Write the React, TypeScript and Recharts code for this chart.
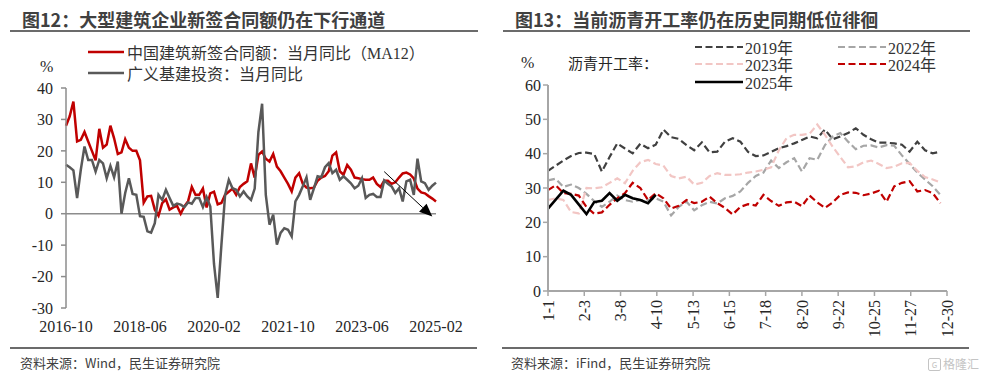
import React from "react";
import { LineChart, Line, XAxis, YAxis, ReferenceLine } from "recharts";

// 图12: 中国建筑新签合同额当月同比(MA12) / 广义基建投资当月同比, monthly from 2016-10
const contractYoY = [
  28, 31, 35.7, 23, 23.5, 26, 23, 20, 17, 27,
  21, 22, 28, 24, 19, 19.5, 23.7, 21, 20, 20,
  17, 3.5, 5.5, 5.7, 1.3, -0.6, 3.4, 4.6, 1.3, 2,
  2.5, 0, 2.3, 4, 8.5, 6, 6, 8, 2, 6.5,
  7, 3, 3.4, 6, 7, 8, 6, 8.5, 9.5, 10.3,
  16, 11.5, 18.7, 19.8, 17.5, 16.6, 19, 15, 13.5, 11.5,
  9.5, 7.1, 11.5, 12.9, 9.5, 8.3, 8.1, 8.3, 10.5, 11.5,
  12, 13.5, 18.5, 19.5, 13.5, 12.4, 15.5, 14, 11.5, 11.3,
  11, 10.8, 10.8, 11.5, 9.5, 8.5, 10.5, 10.5, 9.5, 10,
  11.5, 12.8, 13.1, 12.5, 11.2, 8, 6.8, 6.5, 5.6, 4.8,
  3.9,
];
const infraYoY = [
  15.6, 14.8, 13.8, 5, 14, 21.4, 17.1, 17.1, 13.4, 17.1,
  16, 11.3, 15.2, 11.6, 16.6, 0, 6.6, 11.3, 6.3, 6,
  -0.8, -1, -5.6, -6, -3, 6, 4.4, 7.6, 5, 2.5,
  3.2, 2.9, 2.1, 3.6, 3.2, 5, 5, 2.1, 5.3, 2.3,
  -16, -26.8, -10, 6, 10.8, 8.1, 7.6, 5.5, 7.1, 5.5,
  4.4, 8, 26, 35, 6, -3.5, -0.3, -9.8, -6.1, -4.6,
  -5.1, -7.2, 3.9, 6, 8.7, 11.6, 4.4, 8.1, 11.9, 11.6,
  14.8, 16.1, 12.9, 14, 10.8, 11.9, 10.8, 9.7, 8.1, 8.9,
  11.3, 5, 6, 6.3, 5.3, 5.3, 10.6, 9.5, 8.7, 6.6,
  8.1, 3.9, 10.3, 10.8, 6, 17.5, 10.3, 9.7, 7.6, 8.9,
  9.9,
];
const months = contractYoY.map((_, i) => {
  const t = 9 + i;
  return `${2016 + Math.floor(t / 12)}-${String((t % 12) + 1).padStart(2, "0")}`;
});
const leftTicks = [-30, -20, -10, 0, 10, 20, 30, 40];

// 图13: 沥青开工率, weekly
const y2019 = [
  35, 36.5, 38, 39.3, 40.2, 40.3, 39.9, 34.8, 39, 43,
  41.5, 40.1, 42.9, 41.6, 42.6, 47, 44.8, 44.3, 42.5, 41,
  43.3, 40.4, 40.6, 43.5, 44.5, 43.5, 40.5, 39.3, 39.5, 40.5,
  41.6, 42.2, 43, 44, 45, 44.5, 47, 44.2, 45, 46,
  47.4, 45.5, 44.2, 43.2, 43.2, 43, 42.6, 40.6, 43.5, 41,
  40.1, 40.6,
];
const y2022 = [
  32.2, 32.7, 30.3, 31, 30, 28.3, 26.2, 24.5, 26, 27.8,
  26.5, 26, 26.5, 26.5, 27, 26, 22, 24.5, 26, 23.5,
  25, 26, 25.5, 27, 27.7, 29, 31.5, 33.5, 34.5, 38,
  35.8, 37.5, 38.7, 34.8, 38.7, 38.2, 42.5, 45, 46, 43.5,
  41.3, 42.3, 42.4, 41.8, 42.5, 42.3, 39.5, 37, 34.5, 32.5,
  30.5, 28,
];
const y2023 = [
  26.5, 27, 26.5, 23, 22.6, 30, 29.9, 30.2, 31.5, 32.8,
  31.4, 35, 37.5, 38.2, 37, 36.5, 33.5, 32.8, 33.3, 31,
  31.5, 33.5, 34.3, 33.8, 33.8, 34, 34.5, 34.8, 35.3, 36,
  41, 44.5, 45.5, 45.5, 45.8, 48.5, 45.5, 42, 39, 36,
  36.3, 37.5, 38, 37, 35.8, 36.2, 37.2, 37.3, 35, 33.2,
  32.5, 31.6,
];
const y2024 = [
  29.4, 30.8, 28.5, 28.3, 27.8, 24.5, 22.5, 22.9, 25.1, 27,
  28.5, 31.5, 30, 26.5, 28.5, 27, 24, 24.8, 26.5, 25.6,
  26, 27.5, 25.6, 24.2, 22.3, 24.5, 25.3, 24.9, 28, 26.2,
  24.8, 25.8, 26, 24.7, 27.8, 25.8, 24.2, 25.8, 28, 28.7,
  28.6, 27.9, 28.4, 29.2, 26, 30.5, 31.5, 32, 29, 29.4,
  28.5, 25.6,
];
const y2025 = [24, null, 29.2, 28, null, 22.4, 25.9, 26.3, 28.5, 26.3, 28, 27, 26.5, 25.6, 28];
const weekDays = y2019.map((_, i) => i * 7);
const dayTicks = [0, 33, 66, 99, 132, 165, 198, 231, 264, 297, 330, 363];
const dayTickLabels = ["1-1", "2-3", "3-8", "4-10", "5-13", "6-15", "7-18", "8-20", "9-22", "10-25", "11-27", "12-30"];
const rightTicks = [0, 10, 20, 30, 40, 50, 60];

const leftData = months.map((m, i) => ({ month: m, contract: contractYoY[i], infra: infraYoY[i] }));
const rightData = weekDays.map((d, i) => ({
  day: d,
  y2019: y2019[i],
  y2022: y2022[i],
  y2023: y2023[i],
  y2024: y2024[i],
  y2025: i < y2025.length ? y2025[i] : null,
}));

const yearSeries = [
  { key: "y2019", name: "2019年", color: "#404040", dash: "7 3.5", width: 2.2 },
  { key: "y2022", name: "2022年", color: "#a6a6a6", dash: "7 3.5", width: 2.2 },
  { key: "y2023", name: "2023年", color: "#f2c6c4", dash: "7 3.5", width: 2.2 },
  { key: "y2024", name: "2024年", color: "#c00000", dash: "7 3.5", width: 2.2 },
  { key: "y2025", name: "2025年", color: "#000000", dash: undefined, width: 2.6 },
];

const SERIF = "Liberation Serif, Noto Sans CJK SC, serif";
const CJK = "Noto Sans CJK SC, sans-serif";
const tickStyle = { fontSize: 16, fontFamily: SERIF, fill: "#262626" };

const Arrow = (p: any) => {
  const { x1, y1, x2, y2 } = p;
  const a = Math.atan2(y2 - y1, x2 - x1);
  const L = 13;
  const W = 5.5;
  const bx = x2 - L * Math.cos(a);
  const by = y2 - L * Math.sin(a);
  const px = -Math.sin(a) * W;
  const py = Math.cos(a) * W;
  return (
    <g>
      <line x1={x1} y1={y1} x2={bx} y2={by} stroke="#000" strokeWidth={1} />
      <polygon points={`${x2},${y2} ${bx + px},${by + py} ${bx - px},${by - py}`} fill="#000" />
    </g>
  );
};

const RotTick = ({ x, y, payload }: any) => (
  <g transform={`translate(${x},${y})`}>
    <text transform="rotate(-90)" textAnchor="end" dy="0.35em" fontSize={16} fontFamily={SERIF} fill="#262626">
      {dayTickLabels[dayTicks.indexOf(payload.value)]}
    </text>
  </g>
);

const abs = (s: React.CSSProperties): React.CSSProperties => ({ position: "absolute", ...s });

function LegendSwatch({ color, dash, width }: { color: string; dash?: string; width: number }) {
  return (
    <svg width={48} height={8} style={{ display: "block" }}>
      <line x1={0} y1={4} x2={48} y2={4} stroke={color} strokeWidth={width} strokeDasharray={dash} />
    </svg>
  );
}

export default function App() {
  const legendPos = [
    { left: 695, top: 47 },
    { left: 838, top: 47 },
    { left: 695, top: 64 },
    { left: 838, top: 64 },
    { left: 695, top: 82 },
  ];
  return (
    <div style={abs({ left: 0, top: 0, width: 983, height: 382, background: "#fff", overflow: "hidden" })}>
      {/* titles */}
      <div style={abs({ left: 22, top: 9, fontFamily: CJK, fontWeight: 700, fontSize: 18, lineHeight: "20px", color: "#404040", whiteSpace: "nowrap" })}>
        图12：大型建筑企业新签合同额仍在下行通道
      </div>
      <div style={abs({ left: 515, top: 9, fontFamily: CJK, fontWeight: 700, fontSize: 18, lineHeight: "20px", color: "#404040", whiteSpace: "nowrap" })}>
        图13：当前沥青开工率仍在历史同期低位徘徊
      </div>
      <div style={abs({ left: 10, top: 30, width: 468, borderTop: "2px solid #6b6b6b" })} />
      <div style={abs({ left: 503, top: 30, width: 467, borderTop: "2px solid #6b6b6b" })} />
      <div style={abs({ left: 10, top: 347, width: 467, borderTop: "2px solid #6b6b6b" })} />
      <div style={abs({ left: 502, top: 347, width: 467, borderTop: "2px solid #6b6b6b" })} />

      {/* left chart */}
      <div style={abs({ left: 0, top: 0 })}>
        <LineChart width={480} height={382} data={leftData} margin={{ top: 88, right: 44, bottom: 44, left: 0 }}>
          <XAxis dataKey="month" interval={19} axisLine={false} tickLine={false} tickSize={0} tickMargin={13} height={30} tick={tickStyle} />
          <YAxis
            domain={[-30, 40]}
            ticks={leftTicks}
            interval={0}
            width={66}
            tickSize={5}
            tickMargin={8}
            axisLine={{ stroke: "#8c8c8c", strokeWidth: 1.5 }}
            tickLine={{ stroke: "#8c8c8c", strokeWidth: 1.5 }}
            tick={tickStyle}
          />
          <ReferenceLine y={0} stroke="#8c8c8c" strokeWidth={1.5} />
          <Line type="linear" dataKey="contract" stroke="#c00000" strokeWidth={2.5} dot={false} activeDot={false} isAnimationActive={false} />
          <Line type="linear" dataKey="infra" stroke="#595959" strokeWidth={2.5} dot={false} activeDot={false} isAnimationActive={false} />
          <ReferenceLine
            segment={[{ x: months[86], y: 13.4 }, { x: months[99], y: -0.9 }]}
            ifOverflow="visible"
            shape={Arrow}
          />
        </LineChart>
      </div>
      <div style={abs({ left: 40, top: 57, fontFamily: SERIF, fontSize: 16, lineHeight: "20px", color: "#262626" })}>%</div>
      {[
        { label: "中国建筑新签合同额：当月同比（MA12）", color: "#c00000", top: 52 },
        { label: "广义基建投资：当月同比", color: "#595959", top: 73 },
      ].map((s) => (
        <div key={s.label} style={abs({ left: 88, top: s.top - 10, height: 20, display: "flex", alignItems: "center", whiteSpace: "nowrap" })}>
          <svg width={36} height={8} style={{ display: "block" }}>
            <line x1={0} y1={4} x2={36} y2={4} stroke={s.color} strokeWidth={2.5} />
          </svg>
          <span style={{ marginLeft: 3, fontFamily: SERIF, fontSize: 16, color: "#333" }}>{s.label}</span>
        </div>
      ))}

      {/* right chart */}
      <div style={abs({ left: 490, top: 0 })}>
        <LineChart width={493} height={382} data={rightData} margin={{ top: 85, right: 36, bottom: 31, left: 0 }}>
          <XAxis
            type="number"
            dataKey="day"
            domain={[0, 363]}
            ticks={dayTicks}
            interval={0}
            height={60}
            tickSize={5}
            tickMargin={4}
            axisLine={{ stroke: "#a6a6a6", strokeWidth: 2 }}
            tickLine={{ stroke: "#a6a6a6", strokeWidth: 1.5 }}
            tick={<RotTick />}
          />
          <YAxis
            domain={[0, 60]}
            ticks={rightTicks}
            interval={0}
            width={58}
            tickSize={5}
            tickMargin={2}
            axisLine={{ stroke: "#a6a6a6", strokeWidth: 2 }}
            tickLine={{ stroke: "#a6a6a6", strokeWidth: 1.5 }}
            tick={tickStyle}
          />
          {yearSeries.map((s) => (
            <Line
              key={s.key}
              type="linear"
              dataKey={s.key}
              stroke={s.color}
              strokeWidth={s.width}
              strokeDasharray={s.dash}
              connectNulls
              dot={false}
              activeDot={false}
              isAnimationActive={false}
            />
          ))}
        </LineChart>
      </div>
      <div style={abs({ left: 521, top: 53, fontFamily: SERIF, fontSize: 16, lineHeight: "20px", color: "#262626" })}>%</div>
      <div style={abs({ left: 568, top: 53, fontFamily: CJK, fontSize: 15, lineHeight: "20px", color: "#262626", whiteSpace: "nowrap" })}>沥青开工率：</div>
      {yearSeries.map((s, i) => (
        <div key={s.key} style={abs({ left: legendPos[i].left, top: legendPos[i].top - 10, height: 20, display: "flex", alignItems: "center", whiteSpace: "nowrap" })}>
          <LegendSwatch color={s.color} dash={s.dash} width={s.width} />
          <span style={{ marginLeft: 2, fontFamily: SERIF, fontSize: 16, color: "#333" }}>{s.name}</span>
        </div>
      ))}

      {/* sources */}
      <div style={abs({ left: 20, top: 354, fontFamily: CJK, fontSize: 13, lineHeight: "18px", color: "#404040", whiteSpace: "nowrap" })}>
        资料来源：Wind，民生证券研究院
      </div>
      <div style={abs({ left: 511, top: 354, fontFamily: CJK, fontSize: 13, lineHeight: "18px", color: "#404040", whiteSpace: "nowrap" })}>
        资料来源：iFind，民生证券研究院
      </div>
      <div style={abs({ left: 928, top: 356, display: "flex", alignItems: "center", color: "#c4c4c4", fontFamily: CJK, fontSize: 12, lineHeight: "16px", whiteSpace: "nowrap" })}>
        <span style={{ width: 11, height: 11, border: "1.5px solid #c4c4c4", borderRadius: 2, marginRight: 2, fontSize: 8, lineHeight: "11px", textAlign: "center" }}>G</span>
        格隆汇
      </div>
    </div>
  );
}
